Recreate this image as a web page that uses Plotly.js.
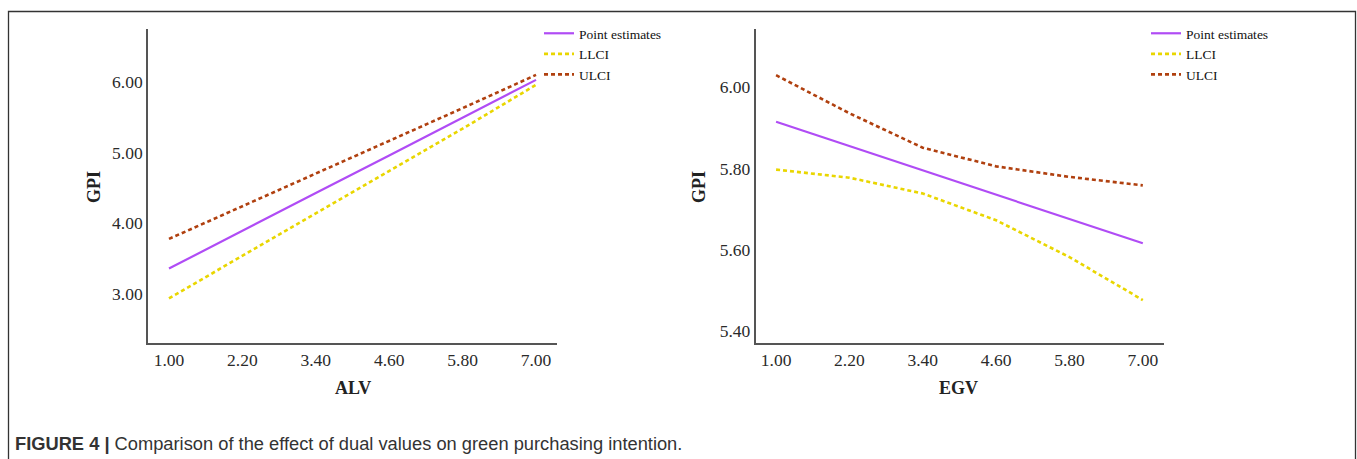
<!DOCTYPE html>
<html>
<head>
<meta charset="utf-8">
<script src="https://cdn.plot.ly/plotly-3.0.1.min.js"></script>
<style>
  html, body { margin: 0; padding: 0; background: #fff; }
  #chart { width: 1357px; height: 459px; }
</style>
</head>
<body>
<div id="chart"></div>
<script>
// ---- Data ----
const xLevels = [1.00, 2.20, 3.40, 4.60, 5.80, 7.00];

// Left panel: ALV -> GPI
const alvPoint = [3.36, 3.90, 4.43, 4.96, 5.50, 6.03];
const alvLLCI  = [2.94, 3.54, 4.14, 4.74, 5.34, 5.96];
const alvULCI  = [3.78, 4.24, 4.70, 5.16, 5.63, 6.10];

// Right panel: EGV -> GPI
const egvPoint = [5.915, 5.855, 5.795, 5.735, 5.675, 5.615];
const egvLLCI  = [5.797, 5.777, 5.738, 5.672, 5.581, 5.475];
const egvULCI  = [6.030, 5.936, 5.851, 5.805, 5.779, 5.758];

const seriesNames = ["Point estimates", "LLCI", "ULCI"];
const xTickVals = xLevels;
const leftYTicks = [3.00, 4.00, 5.00, 6.00];
const rightYTicks = [5.40, 5.60, 5.80, 6.00];
const xTitles = ["ALV", "EGV"];
const yTitle = "GPI";
const caption = "<b>FIGURE 4 |</b> Comparison of the effect of dual values on green purchasing intention.";

// ---- Styling ----
const W = 1357, H = 459;
const colPoint = "#b04cf5";
const colLL = "#e9d600";
const colUL = "#b0400f";
const serif = "'Liberation Serif', 'Times New Roman', serif";

function mk(x, y, name, color, dash, xa, ya, lg) {
  return {
    type: "scatter", mode: "lines", x: x, y: y, name: name,
    xaxis: xa, yaxis: ya, legend: lg,
    line: { color: color, width: dash ? 2.6 : 2.2, dash: dash || "solid" },
    hoverinfo: "x+y+name"
  };
}

const traces = [
  mk(xLevels, alvPoint, seriesNames[0], colPoint, null, "x", "y", "legend"),
  mk(xLevels, alvLLCI,  seriesNames[1], colLL, "4px,3px", "x", "y", "legend"),
  mk(xLevels, alvULCI,  seriesNames[2], colUL, "4px,3px", "x", "y", "legend"),
  mk(xLevels, egvPoint, seriesNames[0], colPoint, null, "x2", "y2", "legend2"),
  mk(xLevels, egvLLCI,  seriesNames[1], colLL, "4px,3px", "x2", "y2", "legend2"),
  mk(xLevels, egvULCI,  seriesNames[2], colUL, "4px,3px", "x2", "y2", "legend2")
];

const px = v => v / W;
const py = v => 1 - v / H;

const axisCommon = {
  showgrid: false, zeroline: false, showline: true,
  linecolor: "#555", linewidth: 1.6, ticks: "",
  tickfont: { family: serif, size: 17.5, color: "#2a2a2a" },
  tickformat: ".2f", fixedrange: true
};

const legendCommon = {
  font: { family: serif, size: 13.5, color: "#111" },
  bgcolor: "rgba(0,0,0,0)", borderwidth: 0,
  xanchor: "left", yanchor: "top", tracegroupgap: 0, itemwidth: 30
};

const layout = {
  width: W, height: H,
  margin: { l: 0, r: 0, t: 0, b: 0 },
  paper_bgcolor: "#fff", plot_bgcolor: "#fff",
  showlegend: true,
  xaxis: Object.assign({}, axisCommon, {
    domain: [px(148), px(557)], range: [0.657, 7.343],
    tickmode: "array", tickvals: xTickVals, anchor: "y"
  }),
  yaxis: Object.assign({}, axisCommon, {
    domain: [py(343), py(29)], range: [2.307, 6.75],
    tickmode: "array", tickvals: leftYTicks, anchor: "x"
  }),
  xaxis2: Object.assign({}, axisCommon, {
    domain: [px(755.6), px(1163.6)], range: [0.665, 7.34],
    tickmode: "array", tickvals: xTickVals, anchor: "y2"
  }),
  yaxis2: Object.assign({}, axisCommon, {
    domain: [py(343), py(29)], range: [5.369, 6.144],
    tickmode: "array", tickvals: rightYTicks, anchor: "x2"
  }),
  legend: Object.assign({}, legendCommon, { x: px(539), y: py(18) }),
  legend2: Object.assign({}, legendCommon, { x: px(1146), y: py(18) }),
  shapes: [
    { type: "rect", xref: "paper", yref: "paper",
      x0: px(8.5), x1: px(1355.5), y0: -0.2, y1: py(11.5),
      line: { color: "#333", width: 1.3 }, fillcolor: "rgba(0,0,0,0)", layer: "below" }
  ],
  annotations: [
    { text: "<b>" + yTitle + "</b>", xref: "paper", yref: "paper", x: px(94), y: py(187),
      textangle: -90, showarrow: false, xanchor: "center", yanchor: "middle",
      font: { family: serif, size: 18, color: "#222" } },
    { text: "<b>" + yTitle + "</b>", xref: "paper", yref: "paper", x: px(699), y: py(187),
      textangle: -90, showarrow: false, xanchor: "center", yanchor: "middle",
      font: { family: serif, size: 18, color: "#222" } },
    { text: "<b>" + xTitles[0] + "</b>", xref: "paper", yref: "paper", x: px(353), y: py(388),
      showarrow: false, xanchor: "center", yanchor: "middle",
      font: { family: serif, size: 18, color: "#222" } },
    { text: "<b>" + xTitles[1] + "</b>", xref: "paper", yref: "paper", x: px(958.5), y: py(388),
      showarrow: false, xanchor: "center", yanchor: "middle",
      font: { family: serif, size: 18, color: "#222" } },
    { text: caption, xref: "paper", yref: "paper", x: px(13), y: py(443),
      showarrow: false, xanchor: "left", yanchor: "middle",
      font: { family: "'Liberation Sans', Arial, sans-serif", size: 18.3, color: "#333" } }
  ]
};

Plotly.newPlot("chart", traces, layout, { displayModeBar: false, staticPlot: false });
</script>
</body>
</html>
